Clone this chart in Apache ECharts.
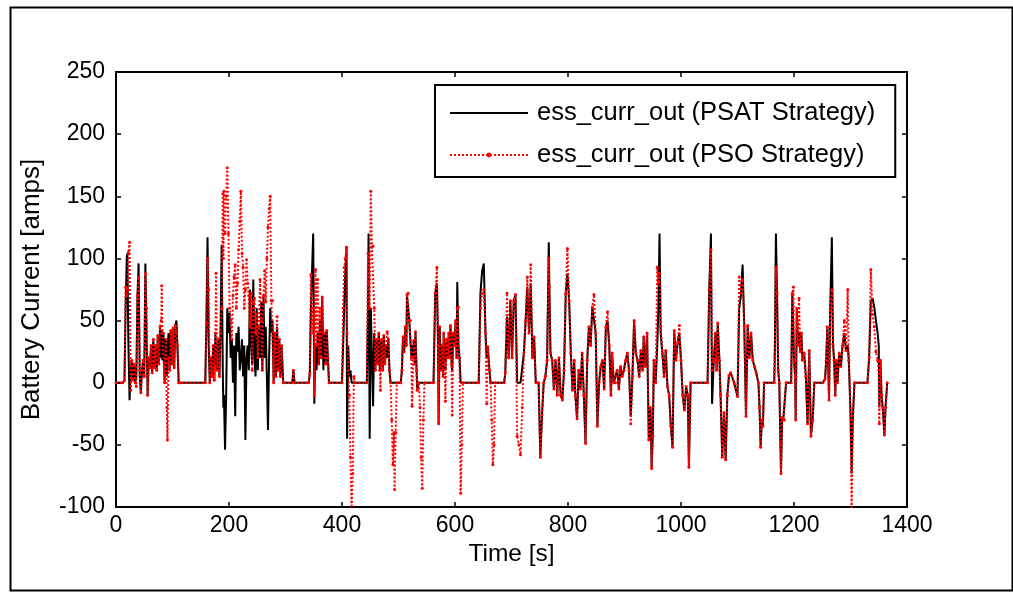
<!DOCTYPE html>
<html>
<head>
<meta charset="utf-8">
<script src="https://cdn.jsdelivr.net/npm/echarts@6/dist/echarts.min.js"></script>
<style>
html,body{margin:0;padding:0;background:#fff;}
#chart{width:1013px;height:592px;}
</style>
</head>
<body>
<div id="chart"></div>
<script>
// time [s]
const time = [0,12,15,17,19,20,22,24,26,28,30,32,34,36,38,40,42,44,46,48,50,52,54,56,58,60,62,64,66,68,70,72,74,76,78,80,81,82,84,86,88,90,91,93,95,97,99,101,103,105,107,109,111,113,
158,160,162,164,166,168,170,172,174,176,177,179,181,183,185,187,189,190,191,193,195,197,199,201,203,205,207,209,211,213,215,217,219,221,223,225,227,229,231,233,235,237,239,241,243,245,247,249,251,253,255,257,259,261,263,265,267,269,271,273,275,277,279,281,283,285,287,289,291,293,296,312,314,316,
341,343,345,347,349,350,351,353,355,357,359,361,363,365,367,369,371,373,375,377,400,402,404,406,408,409,411,413,415,417,419,421,423,444,446,447,449,451,453,455,457,459,461,463,465,467,468,470,472,474,476,478,480,482,484,486,488,490,492,493,495,497,504,506,508,510,512,514,515,517,519,521,523,524,526,527,529,530,532,533,536,538,540,542,544,546,
562,565,568,570,571,573,575,577,579,580,582,583,585,587,589,590,592,594,595,597,599,601,603,604,606,608,610,612,614,642,645,648,651,654,656,658,661,663,665,667,669,671,687,689,692,695,698,701,704,707,710,713,716,719,722,725,728,731,734,737,740,743,748,751,754,757,760,763,766,767,769,772,775,778,781,784,787,790,793,796,799,802,805,808,811,813,816,819,822,825,828,831,834,837,840,843,846,849,852,855,858,861,864,867,870,873,876,878,881,884,887,890,893,896,899,902,905,908,
911,914,917,920,923,926,929,932,934,937,940,943,946,948,950,952,955,958,960,962,964,967,970,973,976,979,982,985,988,991,994,997,1000,1003,1006,1009,1012,1014,1017,1047,1050,1053,1055,1058,1061,1063,1065,1068,1070,1073,1076,1079,1082,1085,1088,1094,1100,1103,1106,1109,1112,1115,1118,1121,1124,1127,1130,1133,1137,1139,1141,1143,1145,1147,
1165,1166,1168,1170,1172,1174,1176,1177,1179,1181,1183,1186,1195,1197,1199,1200,1202,1203,1205,1207,1209,1211,1213,1215,1218,1221,1224,1227,1230,1233,1236,1251,1255,1257,1259,1262,1264,1267,1269,1271,1273,1275,1277,1280,1283,1286,1289,1292,1295,1297,1300,1302,1304,1307,1330,1333,1336,1339,1342,1345,1348,1350,1351,1353,1355,1357,1360,1362,1365];

// ess_curr_out, PSAT strategy [amps]
const psatCurrent = [0,0,2,60,100,104,30,-14,10,18,2,15,0,5,70,96,5,-8,10,18,5,96,40,-10,20,12,30,8,35,12,30,10,38,15,45,20,42,18,40,0,35,5,25,40,10,42,15,44,12,46,50,25,0,0,
0,48,117,30,0,20,5,30,2,40,25,10,35,5,40,111,10,-20,-10,-54,-10,60,40,56,20,35,0,30,-27,40,25,45,10,20,35,5,30,-46,20,30,10,75,30,15,83,20,5,60,10,45,20,65,10,70,20,45,5,-38,20,60,40,50,0,40,5,45,10,35,5,30,0,0,10,0,
0,7,60,90,120,60,-17,30,10,40,15,50,20,69,10,40,15,42,20,0,0,30,61,90,110,-45,30,5,10,0,0,0,0,0,60,120,-45,60,20,-19,40,10,35,15,40,10,25,35,10,38,15,30,20,35,10,0,0,0,0,0,0,0,0,10,37,25,45,30,71,72,50,50,20,30,20,34,15,41,10,-6,0,0,0,0,0,0,
0,72,80,30,-33,45,10,30,5,40,15,10,35,20,40,20,46,15,10,40,30,50,20,81,30,20,0,0,0,0,72,90,96,40,20,29,10,0,0,0,0,0,0,8,53,20,66,20,66,71,0,0,0,0,24,50,77,40,80,20,37,0,0,-60,-26,0,5,18,113,77,24,18,-5,18,-10,20,-10,-14,10,72,88,66,24,-6,18,-10,-29,10,-5,24,-10,-49,18,45,30,61,60,40,-35,0,13,18,-5,45,50,30,-10,24,0,0,10,-5,13,5,10,18,24,10,
-27,5,50,24,18,5,26,10,37,13,40,-46,-20,-69,-43,18,0,30,60,120,40,24,5,26,-3,-10,-35,-52,42,18,32,40,18,-10,-22,-3,-10,-68,0,0,75,120,-17,18,40,10,48,18,-10,-60,-24,-62,-10,6,8,0,-11,60,70,95,45,-27,46,20,40,18,13,8,0,-20,-52,-30,-35,0,
0,21,120,72,10,0,-50,-73,-28,-30,-30,0,0,72,40,18,5,-30,60,30,40,25,40,18,24,5,-33,26,-43,-30,0,0,3,18,45,-14,58,117,31,18,-10,18,0,24,13,30,40,26,30,18,-24,-73,-30,0,0,20,66,68,61,50,40,30,-20,18,-10,-20,-42,-20,0];

// ess_curr_out, PSO strategy [amps]
const psoCurrent = [0,0,2,77,70,75,105,113,-6,18,2,15,0,-3,70,85,10,-8,10,18,5,88,60,-10,20,12,30,8,35,12,30,10,38,15,45,50,78,40,40,0,35,-20,-46,20,10,42,15,44,12,46,40,30,0,0,
0,48,100,75,0,20,5,30,2,40,88,10,35,5,40,60,152,100,154,120,150,173,120,60,50,35,70,85,95,60,80,107,130,154,104,93,60,75,99,80,70,45,72,10,65,68,40,55,20,45,83,50,10,70,90,65,100,125,140,150,66,66,0,40,5,53,10,35,5,30,0,0,10,0,
0,7,87,60,40,60,-10,91,30,83,15,60,20,69,40,40,15,42,20,0,0,60,93,100,109,40,10,-10,-60,-104,-73,5,0,0,104,80,60,154,109,110,60,10,35,15,40,10,-6,35,10,38,15,30,41,35,10,0,-30,-66,-40,-86,-40,0,0,10,37,25,45,30,71,72,50,50,20,-19,20,34,15,41,10,-6,0,-20,-60,-85,-30,0,
0,72,93,30,-33,45,10,30,5,40,15,-15,35,20,40,20,46,15,-26,40,30,50,20,60,61,20,-89,-50,0,0,60,72,75,40,-17,29,10,0,-30,-66,-50,0,0,8,72,20,66,20,66,71,-43,-50,-58,-20,24,50,85,40,95,20,37,0,0,-60,-26,0,5,18,100,77,24,18,-5,18,-10,20,-10,-14,10,72,108,66,24,-6,18,-10,-29,10,-5,24,-10,-49,18,45,30,61,71,40,-35,0,13,18,-5,45,57,30,-10,24,0,0,10,-5,13,5,10,18,24,10,
-33,5,50,24,18,5,26,10,37,13,40,-46,-20,-69,-43,18,0,93,80,88,45,24,5,26,-3,-10,-35,-52,42,18,32,46,18,-10,-22,-3,-10,-68,0,0,75,107,10,18,40,10,48,18,-10,-60,-24,-62,-10,6,8,0,-11,85,72,83,45,-27,46,20,40,18,13,8,0,-20,-52,-30,-35,0,
0,21,93,72,10,0,-50,-73,-28,-30,-30,0,0,72,77,18,5,-30,60,30,68,25,40,18,24,5,-33,26,-43,-30,0,0,3,18,45,-14,58,75,31,18,-10,18,0,24,13,30,50,26,75,18,-24,-104,-30,0,0,20,91,55,45,25,18,10,-33,18,-10,-20,-42,-20,0];

const xTicks = {min: 0, max: 1400, interval: 200};
const yTicks = {min: -100, max: 250, interval: 50};

const psatData = time.map((t, i) => [t, psatCurrent[i]]);
const psoData = time.map((t, i) => [t, psoCurrent[i]]);

const chart = echarts.init(document.getElementById('chart'), null, {renderer: 'canvas'});
const font = 'Liberation Sans, Arial, sans-serif';
const tickCommon = {show: true, inside: true, length: 5, lineStyle: {color: '#000', width: 1.5}};
chart.setOption({
  animation: false,
  backgroundColor: '#fff',
  graphic: [{
    type: 'rect', left: 8, top: 5,
    shape: {x: 0, y: 0, width: 1002, height: 583},
    style: {fill: 'none', stroke: '#000', lineWidth: 2}, z: -1
  }],
  grid: {left: 116, right: 106, top: 72, bottom: 85, show: true, borderColor: '#000', borderWidth: 2, backgroundColor: '#fff'},
  legend: {
    orient: 'vertical', left: 435, top: 85,
    itemWidth: 78, itemHeight: 6, itemGap: 16,
    padding: [15, 20, 9, 14],
    borderColor: '#000', borderWidth: 2, backgroundColor: '#fff',
    textStyle: {fontSize: 25.5, fontFamily: font, color: '#000', padding: [0, 0, 0, 4]},
    data: [
      {name: 'ess_curr_out (PSAT Strategy)', itemStyle: {opacity: 0}},
      {name: 'ess_curr_out (PSO Strategy)'}
    ]
  },
  xAxis: [{
    type: 'value', min: xTicks.min, max: xTicks.max, interval: xTicks.interval,
    name: 'Time [s]', nameLocation: 'middle', nameGap: 32,
    nameTextStyle: {fontSize: 24.5, fontFamily: font, color: '#000'},
    axisLine: {show: true, onZero: false, lineStyle: {color: '#000', width: 2}},
    axisTick: tickCommon,
    axisLabel: {fontSize: 23, fontFamily: font, color: '#000', margin: 7, formatter: v => String(v)},
    splitLine: {show: false}
  }, {
    type: 'value', position: 'top', min: xTicks.min, max: xTicks.max, interval: xTicks.interval,
    axisLine: {show: true, onZero: false, lineStyle: {color: '#000', width: 2}},
    axisTick: tickCommon, axisLabel: {show: false}, splitLine: {show: false}
  }],
  yAxis: [{
    type: 'value', min: yTicks.min, max: yTicks.max, interval: yTicks.interval,
    name: 'Battery Current [amps]', nameLocation: 'middle', nameGap: 71,
    nameTextStyle: {fontSize: 26, fontFamily: font, color: '#000'},
    axisLine: {show: true, onZero: false, lineStyle: {color: '#000', width: 2}},
    axisTick: tickCommon,
    axisLabel: {fontSize: 23, fontFamily: font, color: '#000', margin: 11},
    splitLine: {show: false}
  }, {
    type: 'value', position: 'right', min: yTicks.min, max: yTicks.max, interval: yTicks.interval,
    axisLine: {show: true, onZero: false, lineStyle: {color: '#000', width: 2}},
    axisTick: tickCommon, axisLabel: {show: false}, splitLine: {show: false}
  }],
  series: [{
    name: 'ess_curr_out (PSAT Strategy)', type: 'line', data: psatData,
    symbol: 'none', clip: true,
    lineStyle: {color: '#000', width: 2}, itemStyle: {color: '#000'}
  }, {
    name: 'ess_curr_out (PSO Strategy)', type: 'line', data: psoData,
    symbol: 'circle', symbolSize: 3, showSymbol: true, clip: true,
    lineStyle: {color: '#ff0000', width: 2, type: 'dotted'}, itemStyle: {color: '#ff0000'}
  }]
});
</script>
</body>
</html>
